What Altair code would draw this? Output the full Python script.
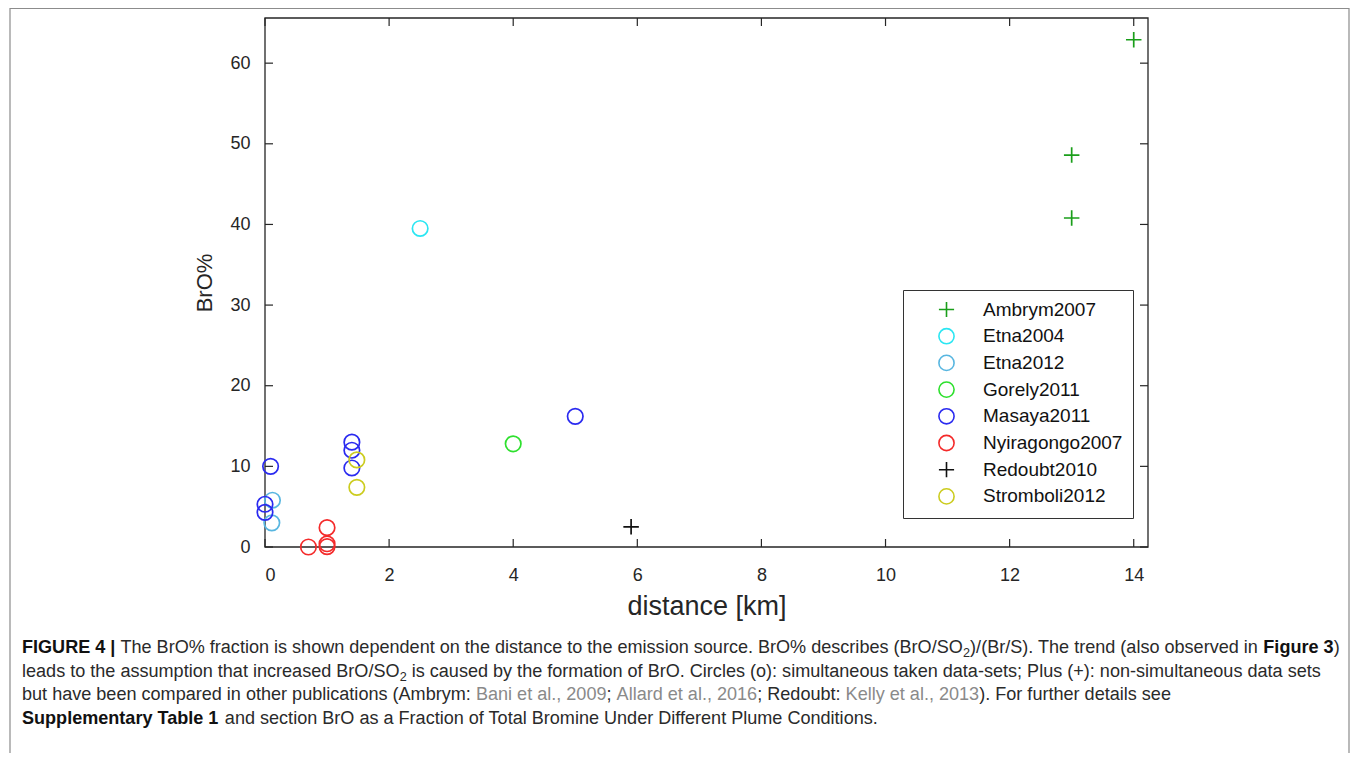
import altair as alt
import pandas as pd

# ---------------- data ----------------
names = ["Ambrym2007", "Etna2004", "Etna2012", "Gorely2011", "Masaya2011",
         "Nyiragongo2007", "Redoubt2010", "Stromboli2012"]
colors = ["#1a9e1a", "#2be6f2", "#58b6e0", "#2ee02e", "#2a2af0",
          "#f42a2a", "#111111", "#cccc1f"]
PLUS = "M-1,0L1,0M0,-1L0,1"
shapes = [PLUS, "circle", "circle", "circle", "circle", "circle", PLUS, "circle"]

ambrym_x = [14.0, 13.0, 13.0]
ambrym_y = [62.9, 48.6, 40.8]
etna2004_x = [2.5]
etna2004_y = [39.5]
etna2012_x = [0.12, 0.11]
etna2012_y = [5.8, 3.0]
gorely_x = [4.0]
gorely_y = [12.8]
masaya_x = [0.09, 0.0, 0.0, 1.4, 1.4, 1.4, 5.0]
masaya_y = [10.0, 5.3, 4.3, 13.0, 12.0, 9.8, 16.2]
nyira_x = [0.7, 1.0, 1.0, 1.0]
nyira_y = [0.0, 2.4, 0.4, 0.05]
redoubt_x = [5.9]
redoubt_y = [2.5]
stromboli_x = [1.48, 1.48]
stromboli_y = [10.8, 7.4]

x_ticks = [0, 2, 4, 6, 8, 10, 12, 14]
y_ticks = [0, 10, 20, 30, 40, 50, 60]
x_domain = [0, 14.23]
y_domain = [0, 65.6]

series = [
    ("Ambrym2007", ambrym_x, ambrym_y),
    ("Etna2004", etna2004_x, etna2004_y),
    ("Etna2012", etna2012_x, etna2012_y),
    ("Gorely2011", gorely_x, gorely_y),
    ("Masaya2011", masaya_x, masaya_y),
    ("Nyiragongo2007", nyira_x, nyira_y),
    ("Redoubt2010", redoubt_x, redoubt_y),
    ("Stromboli2012", stromboli_x, stromboli_y),
]

# caption: (text, style)  n=normal, b=bold, g=gray citation, s=subscript
caption_lines = [
    [("FIGURE 4 |", "b"),
     (" The BrO% fraction is shown dependent on the distance to the emission source. BrO% describes (BrO/SO", "n"),
     ("2", "s"),
     (")/(Br/S). The trend (also observed in ", "n"),
     ("Figure 3", "b"),
     (")", "n")],
    [("leads to the assumption that increased BrO/SO", "n"),
     ("2", "s"),
     (" is caused by the formation of BrO. Circles (o): simultaneous taken data-sets; Plus (+): non-simultaneous data sets", "n")],
    [("but have been compared in other publications (Ambrym: ", "n"),
     ("Bani et al., 2009", "g"),
     ("; ", "n"),
     ("Allard et al., 2016", "g"),
     ("; Redoubt: ", "n"),
     ("Kelly et al., 2013", "g"),
     ("). For further details see", "n")],
    [("Supplementary Table 1", "b"),
     (" and section BrO as a Fraction of Total Bromine Under Different Plume Conditions.", "n")],
]

# ---------------- layout constants ----------------
W, H = 883, 529
PAD_L, PAD_T = 257, 10
TOTAL_W, TOTAL_H = 1342, 745
OX, OY = 8 + PAD_L, 8 + PAD_T   # page position of plot origin
FONT = "Liberation Sans"
AX_COL = "#262626"

# Arial / Liberation Sans advance widths (1/1000 em)
REG = {' ': 278, '!': 278, '%': 889, '(': 333, ')': 333, '+': 584, ',': 278, '-': 333,
       '.': 278, '/': 278, ':': 278, ';': 278, '|': 260, '[': 278, ']': 278,
       'A': 667, 'B': 667, 'C': 722, 'D': 722, 'E': 667, 'F': 611, 'G': 778, 'H': 722,
       'I': 278, 'J': 500, 'K': 667, 'L': 556, 'M': 833, 'N': 722, 'O': 778, 'P': 667,
       'Q': 778, 'R': 722, 'S': 667, 'T': 611, 'U': 722, 'V': 667, 'W': 944, 'X': 667,
       'Y': 667, 'Z': 611, 'a': 556, 'b': 556, 'c': 500, 'd': 556, 'e': 556, 'f': 278,
       'g': 556, 'h': 556, 'i': 222, 'j': 222, 'k': 500, 'l': 222, 'm': 833, 'n': 556,
       'o': 556, 'p': 556, 'q': 556, 'r': 333, 's': 500, 't': 278, 'u': 556, 'v': 500,
       'w': 722, 'x': 500, 'y': 500, 'z': 500}
BOLD = dict(REG)
BOLD.update({' ': 278, '|': 280, 'A': 722, 'B': 722, 'J': 556, 'K': 722, 'L': 611,
             'a': 556, 'b': 611, 'c': 556, 'd': 611, 'e': 556, 'f': 333, 'g': 611,
             'h': 611, 'i': 278, 'j': 278, 'k': 556, 'l': 278, 'm': 889, 'n': 611,
             'o': 611, 'p': 611, 'q': 611, 'r': 389, 's': 556, 't': 333, 'u': 611,
             'v': 556, 'w': 778, 'x': 556, 'y': 556})
SUB_SCALE = 0.7


def em_width(s, style):
    table = BOLD if style == "b" else REG
    w = sum(table.get(c, 556) for c in s) / 1000.0
    return w * (SUB_SCALE if style == "s" else 1.0)


CAP_X0, CAP_X1 = 22, 1340
line1_em = sum(em_width(t, st) for t, st in caption_lines[0])
FS = round((CAP_X1 - CAP_X0) / line1_em, 2)
CAP_BASELINES = [653, 676.5, 700, 723.5]

seg_rows = {"n": [], "b": [], "g": [], "s": []}
for li, line in enumerate(caption_lines):
    cursor = CAP_X0
    for text, st in line:
        lead = len(text) - len(text.lstrip(" "))
        start = cursor + em_width(" " * lead, st) * FS
        stripped = text.strip(" ")
        if stripped:
            yb = CAP_BASELINES[li] + (4 if st == "s" else 0)
            seg_rows[st].append({"px": start - OX, "py": yb - OY, "t": stripped})
        cursor += em_width(text, st) * FS

# ---------------- chart ----------------
rows = []
for nm, xs, ys in series:
    for xv, yv in zip(xs, ys):
        rows.append({"name": nm, "dist": xv, "bro": yv})
pts = pd.DataFrame(rows)

xsc = alt.Scale(domain=x_domain, nice=False, zero=False)
ysc = alt.Scale(domain=y_domain, nice=False, zero=False)
xax = alt.Axis(values=x_ticks, format="d", ticks=False, tickSize=0, domain=False, grid=False,
               labelFontSize=18, labelFont=FONT, labelColor=AX_COL, labelPadding=19,
               title="distance [km]", titleFontSize=27, titleFont=FONT, titleColor=AX_COL,
               titleFontWeight="normal", titlePadding=9)
yax = alt.Axis(values=y_ticks, format="d", ticks=False, tickSize=0, domain=False, grid=False,
               labelFontSize=18, labelFont=FONT, labelColor=AX_COL, labelPadding=15,
               title="BrO%", titleFontSize=22, titleFont=FONT, titleColor=AX_COL,
               titleFontWeight="normal", titlePadding=13)

leg = alt.Legend(title=None, orient="none", legendX=903 - OX, legendY=290 - OY,
                 strokeColor="#333333", fillColor="white", padding=10,
                 rowPadding=3.7, labelFontSize=19, labelFont=FONT, labelColor="#111111",
                 symbolSize=230, symbolStrokeWidth=1.6, symbolOffset=24,
                 labelOffset=27, labelLimit=400, symbolFillColor="transparent")

points = alt.Chart(pts).mark_point(filled=False, size=240, strokeWidth=1.7, opacity=1).encode(
    x=alt.X("dist:Q", scale=xsc, axis=xax),
    y=alt.Y("bro:Q", scale=ysc, axis=yax),
    color=alt.Color("name:N", scale=alt.Scale(domain=names, range=colors), legend=leg),
    shape=alt.Shape("name:N", scale=alt.Scale(domain=names, range=shapes), legend=leg),
)

one = pd.DataFrame({"k": [0]})
frame = alt.Chart(one).mark_rect(fillOpacity=0, stroke=AX_COL, strokeWidth=1.3).encode(
    x=alt.value(0), x2=alt.value(W), y=alt.value(0), y2=alt.value(H))

# outer figure frame (its bottom edge runs past the bottom of the picture)
outer = alt.Chart(one).mark_rect(fillOpacity=0, stroke="#8c8c8c", strokeWidth=1.2).encode(
    x=alt.value(10 - OX), x2=alt.value(1349 - OX), y=alt.value(8.5 - OY), y2=alt.value(775 - OY))

xt = pd.DataFrame({"v": x_ticks})
yt = pd.DataFrame({"w": y_ticks})
TL = 8
xtick_b = alt.Chart(xt).mark_rule(color=AX_COL, strokeWidth=1.2).encode(
    x=alt.X("v:Q", scale=xsc, axis=xax), y=alt.value(H), y2=alt.value(H - TL))
xtick_t = alt.Chart(xt).mark_rule(color=AX_COL, strokeWidth=1.2).encode(
    x=alt.X("v:Q", scale=xsc, axis=xax), y=alt.value(0), y2=alt.value(TL))
ytick_l = alt.Chart(yt).mark_rule(color=AX_COL, strokeWidth=1.2).encode(
    y=alt.Y("w:Q", scale=ysc, axis=yax), x=alt.value(0), x2=alt.value(TL))
ytick_r = alt.Chart(yt).mark_rule(color=AX_COL, strokeWidth=1.2).encode(
    y=alt.Y("w:Q", scale=ysc, axis=yax), x=alt.value(W), x2=alt.value(W - TL))


def cap_layer(st, color, weight, size):
    df = pd.DataFrame(seg_rows[st])
    return alt.Chart(df).mark_text(align="left", baseline="alphabetic", font=FONT,
                                   fontSize=size, fontWeight=weight, color=color).encode(
        x=alt.X("px:Q", scale=None), y=alt.Y("py:Q", scale=None), text="t:N")


cap_n = cap_layer("n", "#2a2a2a", "normal", FS)
cap_b = cap_layer("b", "#111111", "bold", FS)
cap_g = cap_layer("g", "#8a8a8a", "normal", FS)
cap_s = cap_layer("s", "#2a2a2a", "normal", round(FS * SUB_SCALE, 2))

chart = alt.layer(
    outer, frame, xtick_b, xtick_t, ytick_l, ytick_r, points,
    cap_n, cap_b, cap_g, cap_s
).properties(
    width=W, height=H,
    padding={"left": PAD_L, "top": PAD_T, "right": TOTAL_W - PAD_L - W, "bottom": TOTAL_H - PAD_T - H},
    autosize=alt.AutoSizeParams(type="none"),
    background="white",
).configure_view(stroke=None)

chart.save("out.html", embed_options={"renderer": "svg", "actions": False})
